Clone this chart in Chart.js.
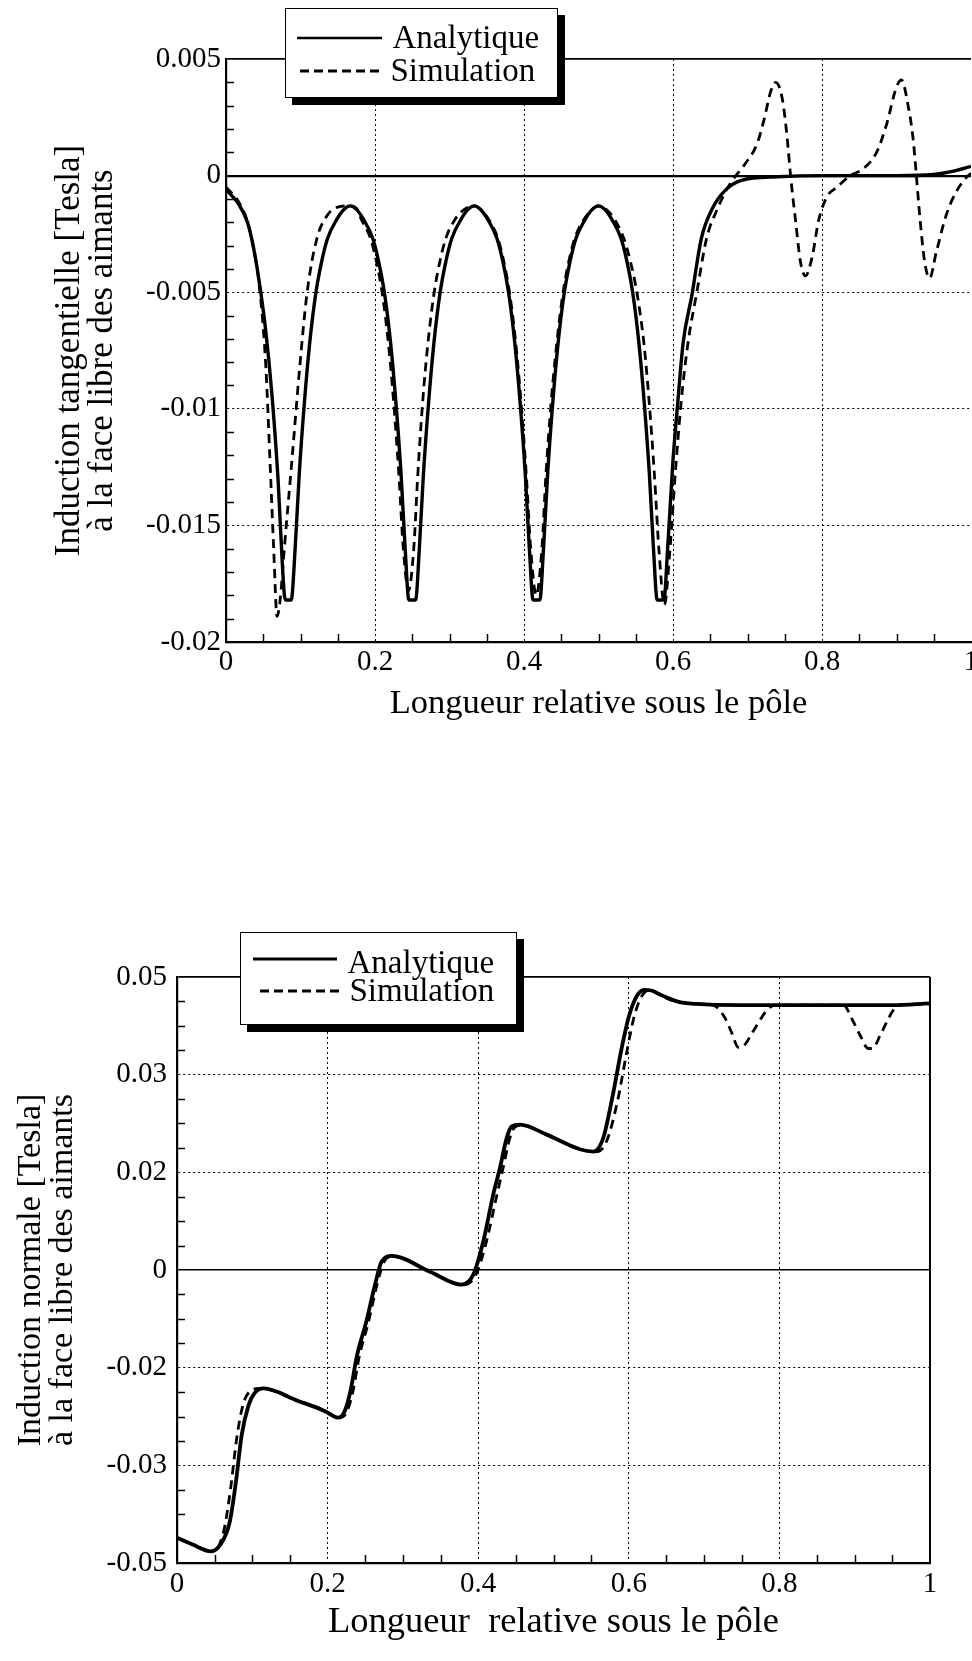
<!DOCTYPE html>
<html>
<head>
<meta charset="utf-8">
<script src="https://cdn.jsdelivr.net/npm/chart.js@4.4.1/dist/chart.umd.min.js"></script>
<style>
html,body{margin:0;padding:0;background:#fff;}
body{width:972px;height:1661px;overflow:hidden;position:relative;font-family:"Liberation Serif","Times New Roman",serif;}
.wrap{position:absolute;left:0;}
.legend{position:absolute;box-sizing:border-box;background:#fff;border:1.5px solid #000;box-shadow:7px 7px 0 #000;}
.legend span{position:absolute;font-size:33px;line-height:33px;white-space:nowrap;color:#000;}
.legend svg{position:absolute;overflow:visible;}
</style>
</head>
<body>
<div class="wrap" style="top:0;width:1000px;height:740px;"><canvas id="c1" width="1000" height="740"></canvas></div>
<div class="wrap" style="top:880px;width:972px;height:781px;"><canvas id="c2" width="972" height="781"></canvas></div>

<div class="legend" style="left:285px;top:8px;width:273px;height:90px;">
  <svg style="left:10.5px;top:25.5px" width="85" height="6"><line x1="0" y1="3" x2="85" y2="3" stroke="#000" stroke-width="2.5"/></svg>
  <span style="left:106.5px;top:12px">Analytique</span>
  <svg style="left:13.5px;top:58.5px" width="82" height="6"><line x1="0" y1="3" x2="82" y2="3" stroke="#000" stroke-width="3" stroke-dasharray="9 5"/></svg>
  <span style="left:104.5px;top:45px">Simulation</span>
</div>
<div class="legend" style="left:240px;top:932px;width:277px;height:93px;">
  <svg style="left:11.5px;top:22.5px" width="84" height="6"><line x1="0" y1="3" x2="84" y2="3" stroke="#000" stroke-width="3"/></svg>
  <span style="left:106.5px;top:12.5px">Analytique</span>
  <svg style="left:18.5px;top:54.5px" width="82" height="6"><line x1="0" y1="3" x2="82" y2="3" stroke="#000" stroke-width="3" stroke-dasharray="9 5"/></svg>
  <span style="left:108.5px;top:41px">Simulation</span>
</div>

<script>
// ---------- Top chart: induction tangentielle ----------
const tanAnaX = [0,0.0165,0.0288,0.037,0.0453,0.0535,0.0617,0.07,0.0757,0.0795,0.0875,0.0928,0.0983,0.1053,0.1123,0.1203,0.1283,0.1363,0.1483,0.1583,
  0.1667,0.175,0.185,0.197,0.205,0.213,0.221,0.228,0.235,0.2405,0.2455,0.2545,0.2595,0.265,0.272,0.279,0.287,0.295,0.303,0.315,0.325,
  0.3333,0.3417,0.3517,0.3637,0.3717,0.3797,0.3877,0.3947,0.4017,0.4072,0.4122,0.4212,0.4262,0.4317,0.4387,0.4457,0.4537,0.4617,0.4697,0.4817,0.4917,
  0.5,0.5083,0.5183,0.5303,0.5383,0.5463,0.5543,0.5613,0.5683,0.5738,0.5788,0.5878,0.5928,0.6,0.6065,0.6135,0.6255,0.638,0.653,0.671,0.692,0.74,0.8,0.9,0.95,0.975,1.0];
const tanAnaY = [-0.0006,-0.0012,-0.002,-0.0031,-0.0047,-0.0067,-0.0094,-0.0131,-0.0167,-0.0182,-0.0182,-0.016,-0.0128,-0.0097,-0.0072,-0.0051,-0.0037,-0.0027,-0.0019,-0.00145,
  -0.0013,-0.00145,-0.0019,-0.0027,-0.0037,-0.0051,-0.0072,-0.0097,-0.0128,-0.016,-0.0182,-0.0182,-0.016,-0.0128,-0.0097,-0.0072,-0.0051,-0.0037,-0.0027,-0.0019,-0.00145,
  -0.0013,-0.00145,-0.0019,-0.0027,-0.0037,-0.0051,-0.0072,-0.0097,-0.0128,-0.016,-0.0182,-0.0182,-0.016,-0.0128,-0.0097,-0.0072,-0.0051,-0.0037,-0.0027,-0.0019,-0.00145,
  -0.0013,-0.00145,-0.0019,-0.0027,-0.0037,-0.0051,-0.0072,-0.0097,-0.0128,-0.016,-0.0182,-0.0182,-0.016,-0.0122,-0.0097,-0.0072,-0.0051,-0.0027,-0.0014,-0.0006,-0.0002,-0.00005,0,0,0.00005,0.00018,0.0004];

const tanSimX = [0,0.0165,0.029,0.037,0.045,0.0535,0.059,0.064,0.0685,0.073,0.078,0.0885,0.099,0.1085,0.122,0.136,0.15,
  0.1667,0.175,0.182,0.194,0.202,0.21,0.218,0.225,0.232,0.238,0.245,0.252,0.2575,0.264,0.271,0.279,0.287,0.295,0.307,0.32,
  0.3333,0.343,0.353,0.365,0.373,0.381,0.389,0.396,0.403,0.409,0.4165,0.424,0.4295,0.4365,0.444,0.452,0.46,0.468,0.48,0.49,
  0.5,0.512,0.522,0.534,0.543,0.552,0.561,0.568,0.575,0.581,0.5885,0.596,0.603,0.611,0.62,0.632,0.645,0.66,0.672,0.682,
  0.6956,0.7133,0.7222,0.7311,0.7378,0.7467,0.7533,0.7578,0.7644,0.7711,0.7778,0.7867,0.7956,0.8067,0.82,0.8378,0.8556,0.8733,
  0.8867,0.9,0.9067,0.9156,0.9222,0.9267,0.9311,0.9378,0.9444,0.9533,0.9667,0.98,0.9933,1.0];
const tanSimY = [-0.0005,-0.0011,-0.002,-0.0031,-0.0048,-0.0082,-0.0122,-0.016,-0.0189,-0.0181,-0.0161,-0.0122,-0.0082,-0.0051,-0.0027,-0.0017,-0.00135,
  -0.0013,-0.0014,-0.0019,-0.0027,-0.0037,-0.0051,-0.0072,-0.0097,-0.0128,-0.016,-0.0178,-0.016,-0.0128,-0.0097,-0.0072,-0.0051,-0.0037,-0.0027,-0.0019,-0.00145,
  -0.0013,-0.0015,-0.0019,-0.0027,-0.0037,-0.0051,-0.0072,-0.0097,-0.0128,-0.016,-0.018,-0.016,-0.0128,-0.0097,-0.0072,-0.0051,-0.0037,-0.0027,-0.0019,-0.0015,
  -0.0013,-0.0015,-0.0019,-0.0027,-0.0037,-0.0051,-0.0072,-0.0097,-0.0128,-0.016,-0.0184,-0.016,-0.0128,-0.0097,-0.0072,-0.005,-0.0027,-0.0014,-0.0006,-0.0001,
  0.00045,0.0014,0.0024,0.0036,0.004,0.0033,0.0016,0,-0.0019,-0.0037,-0.0043,-0.0035,-0.0019,-0.0009,-0.0005,0,0.0003,0.001,
  0.0022,0.0038,0.0041,0.003,0.0016,0,-0.0017,-0.0037,-0.0044,-0.0033,-0.0017,-0.0007,-0.0001,0.0001];

const tanYTickLabels = ['-0.02','-0.015','-0.01','-0.005','0','0.005'];
const xTickLabels = ['0','0.2','0.4','0.6','0.8','1'];

// ---------- Bottom chart: induction normale ----------
const normAnaX = [0,0.02,0.045,0.058,0.07,0.078,0.086,0.095,0.103,0.115,0.16,0.195,0.214,0.222,0.2305,0.2387,0.251,0.2634,0.2716,0.2851,
  0.336,0.378,0.3935,0.4068,0.42,0.4289,0.4378,0.4445,0.4555,0.491,0.535,0.553,0.566,0.579,0.59,0.6,0.61,0.62,0.63,0.645,0.665,0.69,0.75,0.85,0.95,1.0];
const normAnaY = [-0.0457,-0.0468,-0.048,-0.0468,-0.043,-0.0364,-0.0281,-0.0231,-0.021,-0.0202,-0.0223,-0.024,-0.0252,-0.0243,-0.0206,-0.0148,-0.009,-0.0023,0.0014,0.0024,
  -0.0003,-0.0025,-0.0008,0.0049,0.0129,0.0174,0.0225,0.0245,0.0248,0.0231,0.0206,0.0202,0.0225,0.03,0.0375,0.0432,0.0466,0.0478,0.0477,0.0468,0.0458,0.0454,0.0452,0.0452,0.0452,0.0455];

const normSimX = [0,0.02,0.045,0.055,0.063,0.071,0.079,0.087,0.096,0.11,0.16,0.195,0.216,0.226,0.234,0.242,0.254,0.266,0.275,0.286,
  0.336,0.38,0.397,0.411,0.425,0.433,0.442,0.448,0.458,0.491,0.535,0.558,0.5706,0.585,0.597,0.607,0.617,0.627,0.64,0.66,0.69,
  0.712,0.7278,0.7366,0.7454,0.752,0.7654,0.7765,0.7853,0.795,0.885,0.898,0.907,0.918,0.9247,0.9336,0.9425,0.9505,0.96,1.0];
const normSimY = [-0.0457,-0.0468,-0.048,-0.0472,-0.044,-0.0375,-0.029,-0.0233,-0.0208,-0.0202,-0.0223,-0.0239,-0.0252,-0.0241,-0.0205,-0.0148,-0.009,-0.0023,0.0014,0.0023,
  -0.0003,-0.0025,-0.0008,0.0049,0.0129,0.0174,0.0225,0.0243,0.0247,0.0231,0.0206,0.0202,0.022,0.0288,0.037,0.0432,0.0467,0.0478,0.047,0.0459,0.0454,
  0.0452,0.043,0.0405,0.038,0.0382,0.0408,0.0431,0.0446,0.0452,0.0452,0.0424,0.0401,0.0378,0.0379,0.04,0.0423,0.0442,0.0452,0.0454];

const normYTickLabels = ['-0.05','-0.03','-0.02','0','0.02','0.03','0.05'];

// ---------- helpers ----------
Chart.defaults.font.family = '"Liberation Serif","Times New Roman",serif';
Chart.defaults.color = '#000';

const toXY = (xs, ys) => xs.map((x, i) => ({x: x, y: ys[i]}));
const near = (a, b) => Math.abs(a - b) < 1e-9;

const minorTicksPlugin = {
  id: 'minorTicks',
  beforeDatasetsDraw(chart, args, opts) {
    const {ctx, chartArea, scales} = chart;
    ctx.save();
    ctx.strokeStyle = '#000';
    ctx.lineWidth = 1.5;
    (opts.xValues || []).forEach(v => {
      const px = Math.round(scales.x.getPixelForValue(v)) + 0.5;
      ctx.beginPath(); ctx.moveTo(px, chartArea.bottom); ctx.lineTo(px, chartArea.bottom - opts.len); ctx.stroke();
    });
    (opts.yValues || []).forEach(v => {
      const py = Math.round(scales.y.getPixelForValue(v)) + 0.5;
      ctx.beginPath(); ctx.moveTo(chartArea.left, py); ctx.lineTo(chartArea.left + opts.len, py); ctx.stroke();
    });
    ctx.restore();
  }
};

function lineSets(ax, ay, sx, sy, wA) {
  return [
    {label: 'Analytique', data: toXY(ax, ay), borderColor: '#000', borderWidth: wA, pointRadius: 0,
     cubicInterpolationMode: 'monotone', fill: false},
    {label: 'Simulation', data: toXY(sx, sy), borderColor: '#000', borderWidth: 2.8, borderDash: [9, 6],
     pointRadius: 0, cubicInterpolationMode: 'monotone', fill: false}
  ];
}

function buildChart(id, cfg) {
  const xVals = [0, 0.2, 0.4, 0.6, 0.8, 1];
  return new Chart(document.getElementById(id), {
    type: 'line',
    data: {datasets: lineSets(cfg.ax, cfg.ay, cfg.sx, cfg.sy, cfg.wA)},
    options: {
      responsive: false, animation: false, events: [],
      layout: {padding: cfg.padding},
      plugins: {
        legend: {display: false}, tooltip: {enabled: false},
        minorTicks: {xValues: cfg.minorX, yValues: cfg.minorY, len: 8}
      },
      scales: {
        x: {
          type: 'linear', min: 0, max: 1,
          afterBuildTicks: s => { s.ticks = xVals.map(v => ({value: v})); },
          ticks: {callback: (v, i) => xTickLabels[i], font: {size: 29}, padding: cfg.xPad, maxRotation: 0, autoSkip: false},
          grid: {
            drawTicks: false,
            color: c => (c.tick && near(c.tick.value, 1) && !cfg.rightFrame) ? 'rgba(0,0,0,0)' : '#000',
            lineWidth: c => (c.tick && (near(c.tick.value, 0) || near(c.tick.value, 1))) ? 2 : 1
          },
          border: {display: true, color: '#000', width: 2.2,
            dash: c => (c.tick && (near(c.tick.value, 0) || near(c.tick.value, 1))) ? [] : [2, 3]},
          title: {display: true, text: cfg.xTitle, font: {size: cfg.xTitleSize}, padding: {top: 0, bottom: cfg.xTitlePad}},
          afterFit: s => { s.height = 98; s.paddingLeft = 0; s.paddingRight = 0; }
        },
        y: {
          type: 'linear', min: cfg.yMin, max: cfg.yMax,
          afterBuildTicks: s => { s.ticks = cfg.yVals.map(v => ({value: v})); },
          ticks: {callback: (v, i) => cfg.yLabels[i], font: {size: 29}, padding: cfg.yPad, autoSkip: false},
          grid: {
            drawTicks: false, color: '#000',
            lineWidth: c => {
              if (!c.tick) return 1;
              if (near(c.tick.value, 0)) return cfg.zeroW;
              if (near(c.tick.value, cfg.yMax)) return 1.8;
              return 1;
            }
          },
          border: {display: true, color: '#000', width: 2.2,
            dash: c => (c.tick && (near(c.tick.value, 0) || near(c.tick.value, cfg.yMax) || near(c.tick.value, cfg.yMin))) ? [] : [2, 3]},
          title: {display: true, text: cfg.yTitle, font: {size: cfg.yTitleSize, lineHeight: 0.95}, padding: {top: cfg.yTitlePad, bottom: 0}},
          afterFit: s => { s.width = cfg.yWidth; s.paddingTop = 0; s.paddingBottom = 0; }
        }
      }
    },
    plugins: [minorTicksPlugin]
  });
}

const minorX = [];
for (let i = 1; i < 20; i++) if (i % 4 !== 0) minorX.push(i / 20);
const tanMinorY = [];
for (let i = -19; i < 5; i++) if (i % 5 !== 0) tanMinorY.push(i / 1000);
const normMinorY = [];
for (let i = -11; i <= 11; i++) if (i % 4 !== 0) normMinorY.push(i / 240);

buildChart('c1', {
  ax: tanAnaX, ay: tanAnaY, sx: tanSimX, sy: tanSimY, wA: 3.4,
  padding: {left: 0, top: 59, right: 29, bottom: 0},
  yMin: -0.02, yMax: 0.005, yVals: [-0.02, -0.015, -0.01, -0.005, 0, 0.005], yLabels: tanYTickLabels,
  yWidth: 226, yPad: 5, xPad: 3, zeroW: 2.2, rightFrame: false,
  minorX: minorX, minorY: tanMinorY,
  xTitle: 'Longueur relative sous le pôle', xTitleSize: 34.5, xTitlePad: 15.4,
  yTitle: ['Induction tangentielle [Tesla]', 'à la face libre des aimants'], yTitleSize: 35, yTitlePad: 53
});

buildChart('c2', {
  ax: normAnaX, ay: normAnaY, sx: normSimX, sy: normSimY, wA: 3.8,
  padding: {left: 0, top: 97, right: 42, bottom: 0},
  yMin: -0.05, yMax: 0.05, yVals: [0, 1, 2, 3, 4, 5, 6].map(i => -0.05 + i * 0.1 / 6), yLabels: normYTickLabels,
  yWidth: 177, yPad: 10, xPad: 3.6, zeroW: 1.6, rightFrame: true,
  minorX: minorX, minorY: normMinorY,
  xTitle: 'Longueur  relative sous le pôle', xTitleSize: 36.5, xTitlePad: 16.5,
  yTitle: ['Induction normale [Tesla]', 'à la face libre des aimants'], yTitleSize: 34, yTitlePad: 15
});
</script>
</body>
</html>
